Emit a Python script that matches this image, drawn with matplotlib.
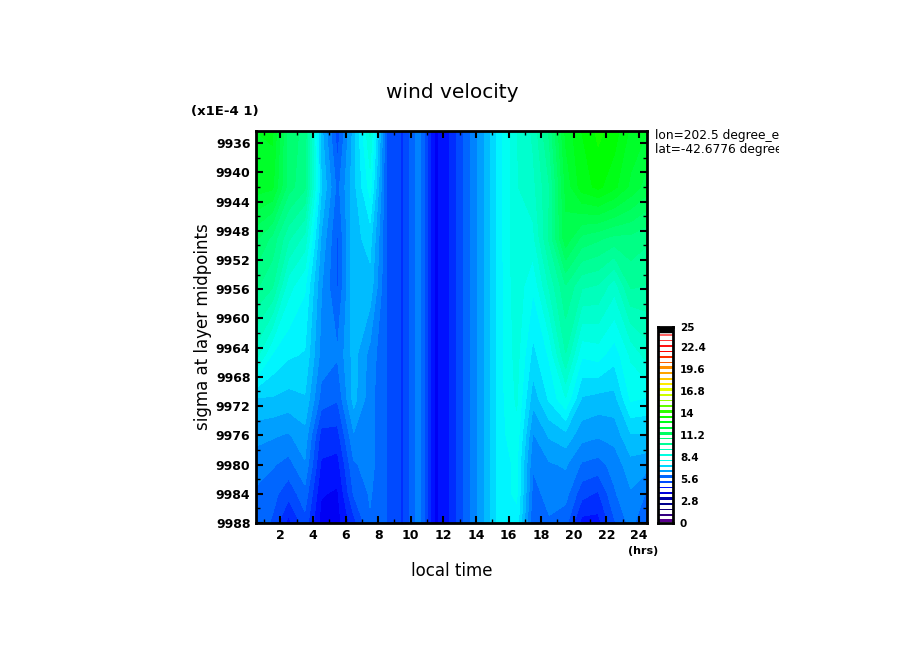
import numpy as np
import matplotlib
matplotlib.use('Agg')
import matplotlib.pyplot as plt
from matplotlib.colors import LinearSegmentedColormap
from matplotlib.ticker import MultipleLocator
from matplotlib.transforms import Bbox

hours = [0.5, 1.5, 2.5, 3.5, 4.5, 5.5, 6.5, 7.5, 8.5, 9.5, 10.5, 11.5, 12.5,
         13.5, 14.5, 15.5, 16.5, 17.5, 18.5, 19.5, 20.5, 21.5, 22.5, 23.5, 24.5]
sigma = [9934.35, 9942, 9949, 9955.5, 9965, 9971, 9976, 9980, 9984, 9988]

# wind velocity, one row per sigma level, one value per hour
row0 = [12.7, 12.8, 10.9, 10.6, 6.9, 5.3, 6.9, 8.8, 5.55, 5.1, 6.2, 4.25, 4.85, 5.8, 6.7, 7.8, 8.7, 9.2, 10.4, 12.4, 13.1, 13.6, 13.3, 12.6, 12.3]
row1 = [12.5, 12.4, 10.9, 10.4, 7.2, 5.8, 7.0, 8.1, 5.55, 5.1, 6.2, 4.25, 4.85, 5.8, 6.7, 7.8, 8.7, 9.0, 9.9, 12.0, 12.9, 13.2, 12.8, 12.2, 11.7]
row2 = [11.2, 10.6, 9.6, 9.0, 6.7, 5.5, 7.0, 7.3, 5.55, 5.1, 6.2, 4.25, 4.85, 5.8, 6.7, 7.8, 8.7, 8.6, 10.0, 11.8, 11.0, 10.8, 10.6, 10.6, 10.4]
row3 = [10.4, 10.0, 8.5, 8.0, 6.4, 5.5, 7.0, 7.0, 5.55, 5.1, 6.2, 4.25, 4.85, 5.8, 6.7, 7.8, 8.6, 8.0, 9.2, 10.3, 9.6, 9.5, 8.9, 10.0, 9.9]
row4 = [8.9, 7.9, 7.6, 7.5, 6.2, 6.0, 6.9, 6.2, 5.55, 5.1, 6.2, 4.25, 4.85, 5.8, 6.7, 7.8, 8.5, 7.4, 8.0, 9.5, 8.0, 8.1, 7.7, 8.4, 8.9]
row5 = [7.1, 7.1, 7.0, 7.1, 5.8, 5.6, 6.9, 6.1, 5.55, 5.1, 6.2, 4.25, 4.85, 5.8, 6.7, 7.8, 8.4, 6.9, 7.6, 8.3, 7.1, 7.0, 7.0, 8.0, 7.9]
row6 = [6.5, 6.4, 6.3, 6.6, 5.0, 5.0, 6.3, 6.1, 5.55, 5.1, 6.2, 4.25, 4.85, 5.8, 6.7, 7.8, 8.2, 6.3, 6.8, 7.0, 6.5, 6.4, 6.5, 7.1, 7.1]
row7 = [6.1, 6.0, 5.8, 6.3, 4.7, 4.6, 5.9, 6.1, 5.55, 5.1, 6.2, 4.25, 4.85, 5.8, 6.7, 7.8, 8.0, 6.0, 6.3, 6.4, 5.9, 5.8, 6.1, 6.6, 6.5]
row8 = [5.9, 5.7, 5.3, 5.8, 4.4, 4.3, 5.6, 6.0, 5.55, 5.1, 6.2, 4.25, 4.85, 5.8, 6.7, 7.8, 8.0, 5.8, 6.1, 6.1, 5.3, 5.1, 5.9, 6.3, 5.9]
row9 = [5.8, 5.5, 4.6, 5.4, 4.2, 4.2, 5.0, 5.9, 5.55, 5.1, 6.2, 4.25, 4.85, 5.8, 6.7, 7.8, 7.8, 5.6, 5.9, 5.7, 4.6, 4.6, 5.5, 6.1, 5.5]

contour_levels = np.linspace(0, 25, 64)
bar_ticks = [0, 2.8, 5.6, 8.4, 11.2, 14, 16.8, 19.6, 22.4, 25]
bar_labels = ['0', '2.8', '5.6', '8.4', '11.2', '14', '16.8', '19.6', '22.4', '25']

W, H = 904, 654


def px_axes(fig, left, top, right, bottom):
    return fig.add_axes([left / W, 1 - bottom / H, (right - left) / W, (bottom - top) / H])


stops = [(0.0, (0.35, 0.0, 0.55)), (2.0 / 25, (0.0, 0.0, 0.45)), (4.2 / 25, (0.0, 0.0, 1.0)),
         (7.8 / 25, (0.0, 1.0, 1.0)), (13.4 / 25, (0.0, 1.0, 0.0)), (17.3 / 25, (1.0, 1.0, 0.0)),
         (19.6 / 25, (1.0, 0.6, 0.0)), (22.2 / 25, (1.0, 0.0, 0.0)), (1.0, (1.0, 0.55, 0.55))]
cmap = LinearSegmentedColormap.from_list('wind', stops, N=63)

fig = plt.figure(figsize=(W / 100, H / 100), dpi=100)

ax = px_axes(fig, 256, 131, 647, 523)
values = np.array([row0, row1, row2, row3, row4, row5, row6, row7, row8, row9])
ax.contourf(hours, sigma, values, levels=contour_levels, cmap=cmap, antialiased=False)
ax.set_xlim(0.5, 24.5)
ax.set_ylim(9988, 9934.35)
ax.xaxis.set_major_locator(MultipleLocator(2))
ax.xaxis.set_minor_locator(MultipleLocator(1))
ax.yaxis.set_major_locator(MultipleLocator(4))
ax.yaxis.set_minor_locator(MultipleLocator(2))
ax.tick_params(which='major', direction='in', length=5, width=1.5, top=True, right=True, pad=4)
ax.tick_params(which='minor', direction='in', length=3, width=1, top=True, right=True)
for s in ax.spines.values():
    s.set_linewidth(2)
for lab in ax.get_xticklabels() + ax.get_yticklabels():
    lab.set_fontsize(9)
    lab.set_fontweight('bold')

fig.text(452 / W, 1 - 92 / H, 'wind velocity', fontsize=14.5, ha='center', va='center')
fig.text(191 / W, 1 - 111 / H, '(x1E-4 1)', fontsize=9.5, ha='left', va='center', fontweight='bold')
fig.text(628 / W, 1 - 551 / H, '(hrs)', fontsize=8, ha='left', va='center', fontweight='bold')
fig.text(452 / W, 1 - 571 / H, 'local time', fontsize=12, ha='center', va='center')
fig.text(203 / W, 1 - 327 / H, 'sigma at layer midpoints', fontsize=12, rotation=90,
         ha='center', va='center')

clip = Bbox([[650, 0], [779, H]])
for y, s in [(135, 'lon=202.5 degree_east'), (149, 'lat=-42.6776 degree_north')]:
    t = fig.text(655 / W, 1 - y / H, s, fontsize=8.8, ha='left', va='center')
    t.set_clip_box(clip)
    t.set_clip_on(True)

cax = px_axes(fig, 658, 327, 673, 523)
bar_levels = np.linspace(0, 25, 37)
mids = (bar_levels[:-1] + bar_levels[1:]) / 2
for i, m in enumerate(mids):
    thick = i % 4 == 0
    cax.barh(m, 1, height=0.36 if thick else 0.2, left=0, color=cmap(m / 25))
cax.set_xlim(0, 1)
cax.set_ylim(0, 25)
cax.set_xticks([])
cax.yaxis.tick_right()
cax.set_yticks(bar_ticks)
cax.set_yticklabels(bar_labels, fontsize=7.5, fontweight='bold')
cax.tick_params(axis='y', length=0, pad=5)
for s in cax.spines.values():
    s.set_linewidth(2)
cax.axhspan(24.4, 25, color='black')

fig.savefig('out.png', dpi=100)
